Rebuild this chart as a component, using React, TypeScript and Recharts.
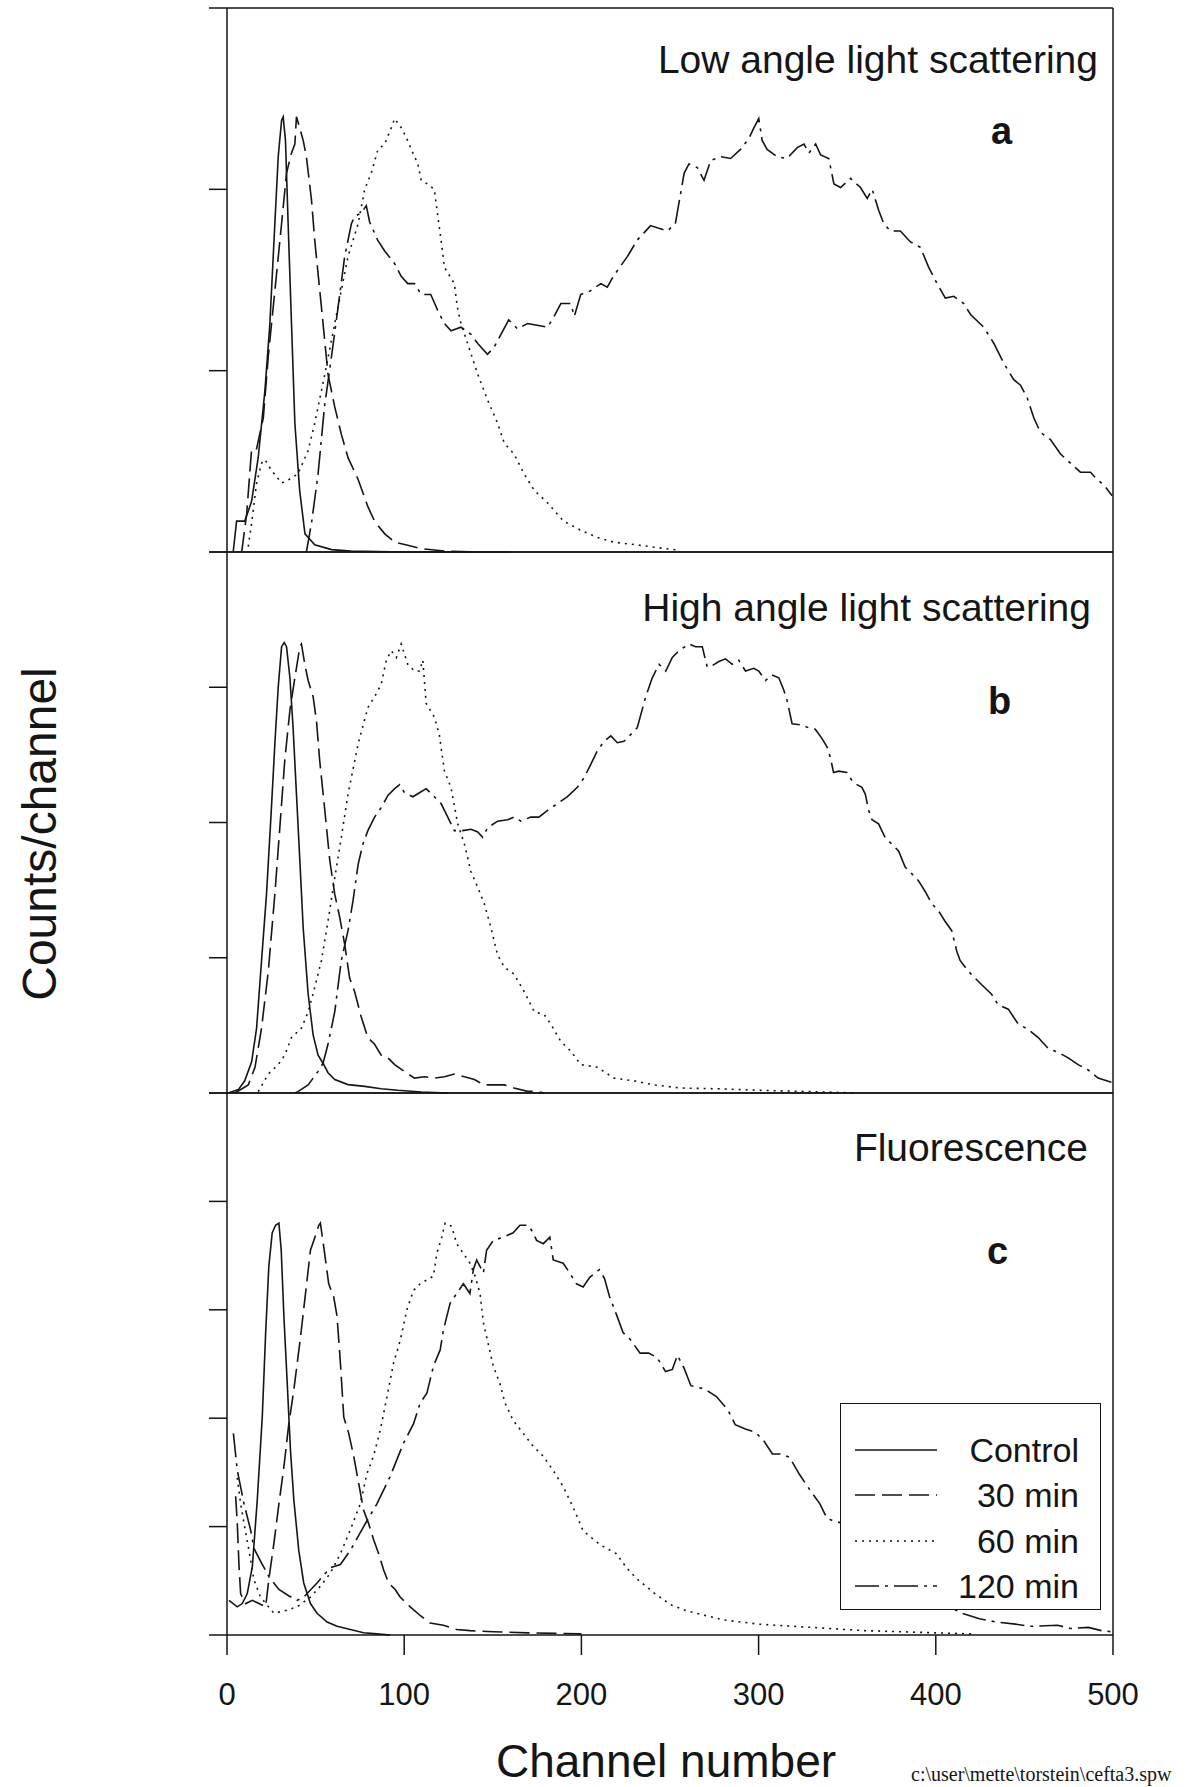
import React from 'react';
import { LineChart, Line, XAxis, YAxis, ReferenceLine, Legend } from 'recharts';

type Pt = [number, number];

const seriesNames = ['Control', '30 min', '60 min', '120 min'];
const xTicks = [0, 100, 200, 300, 400, 500];

// a: low angle light scattering
const lowControl: Pt[] = [[3.5, 0], [5.4, 0.17], [10, 0.17], [13.9, 0.28], [17.6, 0.52], [21.4, 0.89], [24.2, 1.26], [27, 1.81], [28.9, 2.18], [30.8, 2.38], [31.7, 2.4], [33, 2.27], [34.5, 1.81], [36.4, 1.26], [38.3, 0.71], [41, 0.34], [44, 0.1], [49.5, 0.04], [59, 0.013], [70, 0.005], [100, 0], [160, 0]];
const low30: Pt[] = [[8.3, 0], [11.1, 0.21], [13.9, 0.57], [16.7, 0.57], [20.5, 0.74], [23.3, 1.08], [27, 1.44], [30.8, 1.81], [33.6, 2.09], [36.4, 2.2], [38.3, 2.25], [39.2, 2.4], [41, 2.34], [43, 2.27], [44.8, 2.18], [47.7, 1.94], [49.5, 1.72], [53.3, 1.35], [57, 0.98], [60.8, 0.8], [64.5, 0.65], [68.3, 0.52], [74, 0.4], [79.5, 0.25], [83.3, 0.17], [89, 0.1], [94.6, 0.055], [102, 0.037], [109.6, 0.018], [124.6, 0.004], [143, 0]];
const low60: Pt[] = [[12, 0.03], [13.9, 0.16], [16.7, 0.38], [19.5, 0.49], [21.4, 0.51], [25.1, 0.45], [30.8, 0.38], [35, 0.4], [40, 0.43], [45.8, 0.56], [49.5, 0.71], [55, 0.97], [60.8, 1.26], [68.3, 1.63], [74, 1.81], [77.7, 2.0], [81.4, 2.09], [85.2, 2.22], [89, 2.25], [92.7, 2.34], [94.6, 2.39], [98.3, 2.34], [101, 2.29], [104, 2.22], [107.7, 2.14], [109.6, 2.05], [113, 2.03], [117, 2.0], [119, 1.85], [120.8, 1.72], [122.7, 1.57], [128.3, 1.48], [130, 1.35], [132, 1.26], [135.8, 1.15], [141.5, 0.98], [147, 0.84], [152.7, 0.71], [156.5, 0.6], [162, 0.54], [167.7, 0.43], [173.4, 0.34], [181, 0.27], [190, 0.17], [199.6, 0.12], [209, 0.08], [218, 0.055], [233, 0.037], [248, 0.018], [255, 0.01]];
const low120: Pt[] = [[44.8, 0], [47.7, 0.16], [51.4, 0.43], [55, 0.8], [59, 1.08], [62.7, 1.35], [66.4, 1.63], [70.2, 1.81], [72, 1.85], [75.8, 1.87], [78.6, 1.91], [80.5, 1.82], [85, 1.72], [89, 1.66], [94.6, 1.59], [98.3, 1.52], [102, 1.48], [105.8, 1.48], [109.6, 1.42], [115, 1.42], [119, 1.33], [122.7, 1.26], [126.4, 1.22], [132, 1.24], [137.7, 1.2], [141.5, 1.15], [147, 1.09], [150.8, 1.13], [154.6, 1.2], [159, 1.28], [164, 1.23], [169.6, 1.26], [175, 1.25], [181, 1.24], [184.6, 1.3], [188.4, 1.37], [194, 1.37], [196, 1.3], [199.6, 1.42], [205, 1.44], [211, 1.48], [214.6, 1.46], [218, 1.52], [226, 1.63], [231.5, 1.72], [235.3, 1.76], [239, 1.8], [248.5, 1.77], [253, 1.81], [258, 2.09], [260.7, 2.14], [265.4, 2.12], [269.2, 2.05], [273, 2.16], [278.6, 2.18], [284.2, 2.17], [289.8, 2.22], [294.5, 2.28], [297.4, 2.34], [300.1, 2.39], [302, 2.27], [304.8, 2.22], [310.5, 2.18], [316, 2.17], [321.8, 2.23], [325.6, 2.25], [328.4, 2.2], [332.2, 2.25], [335, 2.19], [339.6, 2.17], [342.5, 2.03], [346.3, 2.01], [351.9, 2.06], [357.5, 2.01], [361.3, 1.95], [364.1, 2.0], [367.9, 1.88], [370.7, 1.81], [374.4, 1.77], [380, 1.77], [385.7, 1.71], [391.3, 1.68], [396, 1.57], [400.7, 1.48], [405.4, 1.4], [410.2, 1.41], [415.8, 1.37], [419.6, 1.31], [427, 1.24], [432.8, 1.15], [438.4, 1.04], [444, 0.95], [447.8, 0.92], [451.6, 0.85], [455.3, 0.74], [459, 0.66], [464.7, 0.62], [470.4, 0.54], [476, 0.49], [481.6, 0.44], [487.3, 0.44], [491, 0.4], [494.8, 0.37], [499.5, 0.31]];

// b: high angle light scattering
const highControl: Pt[] = [[0.75, 0], [6.4, 0.025], [10, 0.09], [13.9, 0.23], [16.7, 0.48], [19.5, 0.98], [22.3, 1.47], [25, 2.09], [27, 2.58], [28.9, 3.0], [30.8, 3.3], [32.3, 3.33], [33.6, 3.3], [35.5, 3.07], [37.3, 2.7], [39.2, 2.21], [41.1, 1.72], [43, 1.22], [45.8, 0.73], [48.6, 0.43], [51.4, 0.28], [54.2, 0.22], [57, 0.15], [60.8, 0.1], [68.3, 0.062], [77.7, 0.049], [87, 0.032], [96.4, 0.02], [109.6, 0.007], [124.6, 0]];
const high30: Pt[] = [[4.5, 0], [12, 0.06], [15.8, 0.19], [19.5, 0.48], [23.3, 0.9], [27, 1.47], [29.8, 1.96], [32.6, 2.46], [35.5, 2.83], [38.3, 3.07], [41.1, 3.3], [42, 3.32], [43.9, 3.17], [45.8, 3.05], [48.6, 2.93], [50.5, 2.75], [52.3, 2.46], [55.2, 2.09], [58, 1.72], [60.8, 1.47], [63.6, 1.3], [66.4, 1.1], [69.2, 0.85], [72, 0.75], [75.8, 0.56], [79.5, 0.41], [83.3, 0.36], [87, 0.28], [90.8, 0.26], [94.6, 0.21], [100, 0.16], [105.8, 0.11], [111.4, 0.12], [117, 0.11], [122.7, 0.12], [128.3, 0.14], [134, 0.12], [139.6, 0.1], [145, 0.06], [150.8, 0.06], [156.5, 0.06], [162, 0.037], [169.6, 0.012], [175, 0.012], [179, 0]];
const high60: Pt[] = [[17.6, 0.01], [23.3, 0.14], [28.9, 0.21], [32.6, 0.28], [36.4, 0.41], [42, 0.48], [45.8, 0.6], [49.5, 0.78], [53.3, 0.98], [57, 1.27], [60.8, 1.59], [64.5, 1.89], [68.3, 2.21], [74, 2.58], [79.5, 2.85], [83.3, 2.93], [87, 3.02], [89.9, 3.2], [92.7, 3.27], [95.6, 3.22], [98.3, 3.32], [102, 3.17], [105.8, 3.12], [108.6, 3.12], [110.5, 3.2], [112.4, 2.88], [117, 2.78], [119.8, 2.65], [122.7, 2.38], [126.4, 2.26], [130.2, 1.99], [134, 1.84], [137.6, 1.64], [141.5, 1.52], [145.2, 1.4], [149, 1.22], [152.7, 1.02], [156.5, 0.93], [162, 0.88], [167.7, 0.75], [173.4, 0.6], [179, 0.58], [182.7, 0.51], [188.4, 0.38], [194, 0.31], [199.6, 0.21], [209, 0.19], [218.4, 0.11], [229.6, 0.09], [240.9, 0.06], [256, 0.037], [280, 0.03], [300, 0.02], [330, 0.01], [356, 0]];
const high120: Pt[] = [[38.3, 0], [40, 0.01], [45.8, 0.06], [51.4, 0.16], [54.2, 0.22], [57, 0.36], [60.8, 0.6], [64.5, 0.98], [68.3, 1.2], [71.1, 1.42], [74, 1.69], [76.7, 1.84], [79.5, 1.94], [83.3, 2.04], [87, 2.11], [90.8, 2.2], [94.6, 2.25], [97.4, 2.28], [100.2, 2.22], [104.9, 2.19], [108.6, 2.22], [112.4, 2.25], [117, 2.19], [120.8, 2.14], [124.6, 2.04], [128.3, 1.94], [133, 1.94], [137.7, 1.95], [141.5, 1.93], [144.3, 1.89], [147, 1.96], [152.7, 2.01], [158.3, 2.02], [162, 2.04], [165.8, 2.01], [171.4, 2.04], [176, 2.04], [180.9, 2.09], [186.5, 2.14], [192, 2.19], [197.7, 2.26], [201.5, 2.33], [205.3, 2.43], [209, 2.53], [212.8, 2.6], [216.6, 2.64], [220.3, 2.59], [224, 2.6], [227.8, 2.65], [231.5, 2.7], [236.3, 2.93], [240, 3.07], [243.8, 3.17], [247.6, 3.12], [251.3, 3.22], [255, 3.27], [260.7, 3.32], [264.4, 3.3], [268.2, 3.3], [271, 3.15], [273.8, 3.16], [277.6, 3.19], [281.3, 3.21], [285.1, 3.17], [288.8, 3.2], [292.6, 3.12], [297.3, 3.14], [300.1, 3.12], [303.9, 3.05], [307.6, 3.09], [311.4, 3.07], [314.2, 2.98], [316.1, 2.9], [318.9, 2.73], [324.5, 2.72], [328.3, 2.7], [332, 2.69], [335.8, 2.62], [338.6, 2.56], [340.5, 2.48], [342.3, 2.37], [345.2, 2.38], [349.8, 2.37], [352.7, 2.31], [355.5, 2.28], [358.3, 2.26], [360.2, 2.21], [362.1, 2.09], [364, 2.02], [367.7, 1.99], [371.4, 1.89], [375.2, 1.84], [379, 1.79], [382.7, 1.67], [386.5, 1.62], [390.2, 1.57], [394, 1.49], [397.7, 1.4], [401.4, 1.35], [405.2, 1.27], [409, 1.2], [411.8, 1.05], [413.7, 0.98], [418.4, 0.9], [422.1, 0.85], [425.9, 0.8], [431.5, 0.73], [435.3, 0.65], [440.9, 0.62], [446.5, 0.51], [452.2, 0.47], [457.8, 0.41], [463.4, 0.33], [469.1, 0.3], [474.7, 0.26], [480.3, 0.21], [486, 0.17], [491.6, 0.11], [499.1, 0.08]];

// c: fluorescence
const fluoControl: Pt[] = [[1.1, 0.32], [5.8, 0.26], [8.6, 0.29], [11.4, 0.38], [14.3, 0.63], [17.1, 1.25], [19.9, 2.01], [21.8, 2.78], [23.6, 3.4], [25.5, 3.71], [27.4, 3.78], [29.3, 3.8], [30.6, 3.55], [32.1, 2.94], [34, 2.32], [35.8, 1.71], [37.7, 1.25], [40.5, 0.78], [43.3, 0.48], [47.1, 0.29], [50.8, 0.2], [56.5, 0.12], [62.1, 0.08], [69.6, 0.05], [77.1, 0.02], [84.6, 0.01], [92, 0]];
const fluo30: Pt[] = [[4.9, 1.28], [5.8, 1.03], [6.8, 0.63], [7.7, 0.38], [10.5, 0.29], [14.3, 0.32], [18, 0.29], [21.8, 0.26], [23.6, 0.51], [26.5, 0.85], [29.3, 1.21], [32.1, 1.55], [34.9, 1.95], [37.7, 2.26], [41.5, 2.75], [44.3, 3.15], [47.1, 3.55], [49, 3.64], [51.8, 3.78], [52.7, 3.8], [54.6, 3.58], [57.4, 3.24], [60.2, 3.12], [62.1, 2.94], [64, 2.51], [65.9, 2.01], [68.7, 1.86], [71.5, 1.65], [74.3, 1.4], [77.1, 1.15], [79.9, 1.03], [82.7, 0.88], [85.6, 0.75], [88.4, 0.6], [91.2, 0.48], [94.9, 0.42], [97.7, 0.35], [103.4, 0.26], [109, 0.18], [114.6, 0.11], [122.1, 0.09], [129.6, 0.05], [137.1, 0.04], [150, 0.03], [170, 0.02], [200, 0.01]];
const fluo60: Pt[] = [[5.8, 1.45], [7.7, 1.21], [9.6, 1.03], [12.4, 0.78], [15.2, 0.51], [18.9, 0.35], [26.5, 0.2], [34, 0.23], [39.6, 0.26], [47.1, 0.35], [52.7, 0.45], [58.3, 0.57], [64, 0.75], [69.6, 0.97], [75.2, 1.21], [79, 1.49], [82.7, 1.65], [86.5, 1.89], [90.3, 2.2], [94, 2.51], [97.8, 2.72], [101.5, 3.0], [105.3, 3.18], [109, 3.24], [116.5, 3.31], [118.4, 3.52], [121.2, 3.67], [123.1, 3.8], [126.8, 3.77], [129.6, 3.61], [133.4, 3.52], [137.1, 3.43], [140, 3.31], [142.8, 3.15], [144.7, 2.88], [146.5, 2.75], [150.3, 2.48], [154, 2.32], [156.9, 2.14], [161.5, 1.98], [167.2, 1.86], [172.8, 1.74], [178.4, 1.65], [184, 1.52], [189.7, 1.37], [195.3, 1.18], [201, 0.96], [208.4, 0.86], [212, 0.82], [219.7, 0.75], [225.5, 0.62], [231.2, 0.52], [240.8, 0.39], [250.3, 0.28], [260, 0.22], [280, 0.14], [300, 0.1], [320, 0.08], [340, 0.06], [360, 0.04], [380, 0.03], [400, 0.02], [420, 0.01]];
const fluo120: Pt[] = [[3.6, 1.86], [5.8, 1.52], [9.6, 1.21], [13.3, 0.97], [15.2, 0.8], [19, 0.68], [23.6, 0.54], [29.3, 0.42], [35, 0.36], [39.6, 0.32], [43.3, 0.35], [50.8, 0.48], [58.3, 0.62], [64, 0.65], [69.6, 0.78], [77.1, 1.0], [84.6, 1.21], [92, 1.46], [99.6, 1.77], [105.3, 1.95], [109, 2.14], [112.8, 2.23], [116.5, 2.48], [120.3, 2.63], [122.1, 2.81], [125.9, 3.06], [129.6, 3.15], [133.4, 3.24], [137.1, 3.15], [139, 3.37], [140.9, 3.46], [144.7, 3.34], [146.5, 3.55], [150.3, 3.64], [155.9, 3.67], [161.5, 3.71], [165.3, 3.78], [170, 3.78], [172.8, 3.71], [174.7, 3.64], [178.5, 3.61], [182.2, 3.67], [184.1, 3.46], [189.7, 3.43], [193.4, 3.34], [197.2, 3.24], [201, 3.21], [204.7, 3.3], [210.1, 3.37], [213, 3.29], [215.9, 3.12], [219.7, 2.96], [223.5, 2.79], [227.4, 2.73], [233.1, 2.6], [237.9, 2.6], [242.7, 2.56], [247.5, 2.43], [251.3, 2.45], [254.2, 2.58], [258, 2.46], [261.8, 2.3], [269.5, 2.27], [276.2, 2.2], [282.9, 2.07], [286.8, 1.94], [292.5, 1.9], [298.2, 1.87], [303, 1.79], [307.8, 1.67], [312.6, 1.67], [317.4, 1.64], [323.1, 1.48], [328.9, 1.34], [334.6, 1.21], [338.5, 1.08], [342.3, 1.05], [348, 1.03], [360, 0.85], [380, 0.55], [400, 0.32], [415, 0.2], [424.6, 0.15], [434, 0.12], [445, 0.1], [453, 0.08], [468.7, 0.09], [476, 0.06], [486, 0.07], [493.6, 0.04], [499, 0.03]];

const dashes: Record<string, string | undefined> = {
  Control: undefined,
  '30 min': '20 7',
  '60 min': '2 5',
  '120 min': '24 6 3 6',
};

const ink = '#151515';
const sans = '"Liberation Sans", Arial, sans-serif';

const toRows = (pts: Pt[]) => pts.map(([ch, n]) => ({ ch, n }));

// keep the order of the original figure, not the legend's sorted payload
function LegendBox() {
  return (
    <div style={{ width: 261, height: 207, boxSizing: 'border-box', border: `1.5px solid ${ink}`, background: '#fff', paddingTop: 23 }}>
      {seriesNames.map((name) => (
        <div key={name} style={{ height: 45.5, display: 'flex', alignItems: 'center' }}>
          <svg width={96} height={10} style={{ marginLeft: 14 }}>
            <line x1={0} y1={5} x2={82} y2={5} stroke={ink} strokeWidth={1.4} strokeDasharray={dashes[name]} />
          </svg>
          <span style={{ flex: 1, textAlign: 'right', paddingRight: 21, fontSize: 34, fontFamily: sans, color: ink, lineHeight: 1 }}>{name}</span>
        </div>
      ))}
    </div>
  );
}

const NoLabel = () => <g />;

type PanelProps = {
  top: number;
  plotHeight: number;
  yMax: number;
  series: Pt[][];
  bottomAxis?: boolean;
};

function Panel({ top, plotHeight, yMax, series, bottomAxis }: PanelProps) {
  const yTicks = Array.from({ length: yMax + 1 }, (_, i) => i);
  const axisH = bottomAxis ? 70 : 0;
  const height = 8 + plotHeight + axisH + 10;
  return (
    <div style={{ position: 'absolute', left: 0, top: top - 8 }}>
      <LineChart width={1187} height={height} margin={{ top: 8, right: 74, bottom: 10, left: 207 }}>
        <XAxis
          dataKey="ch"
          type="number"
          domain={[0, 500]}
          ticks={xTicks}
          hide={!bottomAxis}
          height={axisH}
          tickSize={20}
          tickMargin={28}
          tick={{ fontSize: 31, fill: ink, fontFamily: sans }}
          axisLine={{ stroke: ink, strokeWidth: 1.5 }}
          tickLine={{ stroke: ink, strokeWidth: 1.5 }}
        />
        <YAxis
          type="number"
          domain={[0, yMax]}
          ticks={yTicks}
          tick={NoLabel}
          tickSize={18}
          width={20}
          axisLine={{ stroke: ink, strokeWidth: 1.5 }}
          tickLine={{ stroke: ink, strokeWidth: 1.5 }}
        />
        <ReferenceLine x={500} stroke={ink} strokeWidth={1.5} />
        <ReferenceLine y={yMax} stroke={ink} strokeWidth={1.5} />
        {!bottomAxis && <ReferenceLine y={0} stroke={ink} strokeWidth={1.5} />}
        {series.map((s, i) => (
          <Line
            key={seriesNames[i]}
            data={toRows(s)}
            dataKey="n"
            name={seriesNames[i]}
            type="linear"
            stroke={ink}
            strokeWidth={1.6}
            strokeDasharray={dashes[seriesNames[i]]}
            dot={false}
            isAnimationActive={false}
          />
        ))}
        {bottomAxis && (
          <Legend
            layout="vertical"
            align="center"
            verticalAlign="middle"
            content={<LegendBox />}
            wrapperStyle={{ left: 840, top: 1403 - (top - 8), width: 261, height: 207 }}
          />
        )}
      </LineChart>
    </div>
  );
}

const titleStyle: React.CSSProperties = {
  position: 'absolute',
  fontFamily: sans,
  fontSize: 39,
  lineHeight: 1,
  color: ink,
  whiteSpace: 'nowrap',
};

const tagStyle: React.CSSProperties = { ...titleStyle, fontSize: 38, fontWeight: 'bold' };

export default function App() {
  return (
    <div style={{ position: 'absolute', left: 0, top: 0, width: 1187, height: 1787, background: '#fff', overflow: 'hidden' }}>
      <Panel top={8} plotHeight={544} yMax={3} series={[lowControl, low30, low60, low120]} />
      <Panel top={552} plotHeight={541} yMax={4} series={[highControl, high30, high60, high120]} />
      <Panel top={1093} plotHeight={542} yMax={5} series={[fluoControl, fluo30, fluo60, fluo120]} bottomAxis />

      <div style={{ ...titleStyle, right: 1187 - 1098, top: 40 }}>Low angle light scattering</div>
      <div style={{ ...titleStyle, right: 1187 - 1091, top: 588 }}>High angle light scattering</div>
      <div style={{ ...titleStyle, right: 1187 - 1088, top: 1128 }}>Fluorescence</div>

      <div style={{ ...tagStyle, left: 991, top: 112 }}>a</div>
      <div style={{ ...tagStyle, left: 988, top: 682 }}>b</div>
      <div style={{ ...tagStyle, left: 987, top: 1232 }}>c</div>

      <div
        style={{
          position: 'absolute', left: -160, top: 809, width: 400, height: 50, lineHeight: '50px',
          textAlign: 'center', fontFamily: sans, fontSize: 48, color: ink, transform: 'rotate(-90deg)',
        }}
      >
        Counts/channel
      </div>
      <div style={{ ...titleStyle, left: 366, width: 600, textAlign: 'center', top: 1736, fontSize: 46, lineHeight: 1.1 }}>Channel number</div>
      <div style={{ position: 'absolute', left: 911, top: 1763, fontFamily: '"Liberation Serif", serif', fontSize: 20, lineHeight: 1.1, color: ink, whiteSpace: 'nowrap' }}>
        {'c:\\user\\mette\\torstein\\cefta3.spw'}
      </div>
    </div>
  );
}
